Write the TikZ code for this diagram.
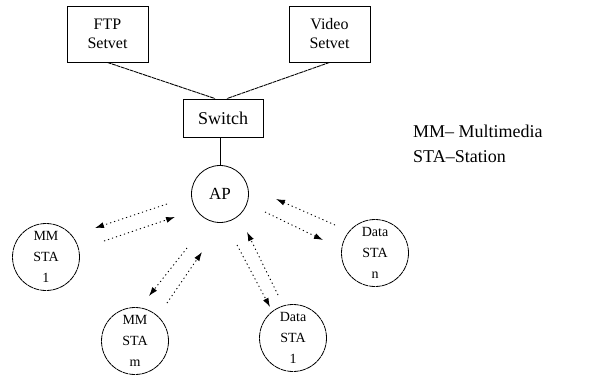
\documentclass[tikz,border=0pt]{standalone}
\usepackage{fontspec}
\setmainfont{Liberation Serif}
\usetikzlibrary{arrows.meta}
\begin{document}
\begin{tikzpicture}[x=1pt,y=-1pt,
  srv/.style={draw,line width=0.9pt,inner sep=0pt,align=center,font=\fontsize{16}{19}\selectfont},
  sta/.style={draw,circle,line width=0.8pt,dash pattern=on 6pt off 0.6pt,inner sep=0pt,minimum size=67pt,align=center,font=\fontsize{14}{21}\selectfont},
  link/.style={line width=0.9pt,dash pattern=on 4pt off 0.7pt},
  radio/.style={line width=0.9pt,dash pattern=on 1.2pt off 3pt,-{Latex[length=9pt,width=6pt]}},
  legend/.style={anchor=west,font=\fontsize{18}{18}\selectfont,inner sep=0pt}]
\useasboundingbox (0,0) rectangle (597,378);
\node[srv,minimum width=81pt,minimum height=56pt] (ftp) at (107.5,34) {FTP\\Setvet};
\node[srv,minimum width=81pt,minimum height=56pt] (video) at (329.5,34) {Video\\Setvet};
\node[srv,minimum width=80pt,minimum height=38pt,font=\fontsize{18}{19}\selectfont] (switch) at (223,118) {Switch};
\node[draw,circle,line width=0.8pt,minimum size=57pt,inner sep=0pt,font=\fontsize{17}{18}\selectfont] (ap) at (220,194) {AP};
\node[sta] (mm1) at (46,257) {MM\\STA\\1};
\node[sta] (mmm) at (135,341) {MM\\STA\\m};
\node[sta] (d1) at (293,338) {Data\\STA\\1};
\node[sta] (dn) at (375,253) {Data\\STA\\n};
\node[legend] (leg1) at (413,131) {MM{\textendash} Multimedia};
\node[legend] (leg2) at (413,157) {STA{\textendash}Station};
\draw[link] (ftp.south) -- ([xshift=-8pt]switch.north);
\draw[link] (video.south) -- ([xshift=4pt]switch.north);
\draw[line width=0.9pt] ([xshift=-3pt]switch.south) -- (ap.north);
% radio links
\coordinate (a1s) at (167,204); \coordinate (a1e) at (95,228);
\coordinate (a2s) at (104,241); \coordinate (a2e) at (175,217);
\coordinate (b1s) at (187,248); \coordinate (b1e) at (149,296);
\coordinate (b2s) at (167,303); \coordinate (b2e) at (202,252);
\coordinate (c1s) at (237,245); \coordinate (c1e) at (270,307);
\coordinate (c2s) at (278,295); \coordinate (c2e) at (247,232);
\coordinate (d1s) at (335,225); \coordinate (d1e) at (276,199);
\coordinate (d2s) at (265,212); \coordinate (d2e) at (323,240);
\draw[radio] (a1s) -- (a1e);
\draw[radio] (a2s) -- (a2e);
\draw[radio] (b1s) -- (b1e);
\draw[radio] (b2s) -- (b2e);
\draw[radio] (c1s) -- (c1e);
\draw[radio] (c2s) -- (c2e);
\draw[radio] (d1s) -- (d1e);
\draw[radio] (d2s) -- (d2e);
\end{tikzpicture}
\end{document}
